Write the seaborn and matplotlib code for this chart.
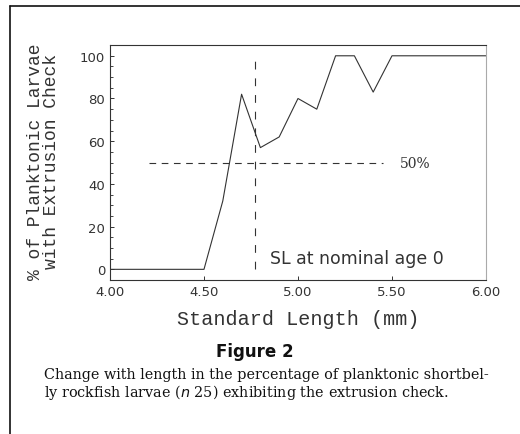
import matplotlib
matplotlib.use("Agg")
import matplotlib.pyplot as plt
import numpy as np
import pandas as pd
import seaborn as sns
from matplotlib.ticker import MultipleLocator

# values
standard_length = [4.0, 4.1, 4.2, 4.3, 4.4, 4.5, 4.6, 4.7, 4.8, 4.9, 5.0,
                   5.1, 5.2, 5.3, 5.4, 5.5, 5.6, 5.7, 5.8, 5.9, 6.0]
pct_with_check = [0, 0, 0, 0, 0, 0, 32, 82, 57, 62, 80,
                  75, 100, 100, 83, 100, 100, 100, 100, 100, 100]
x_ticks = [4.0, 4.5, 5.0, 5.5, 6.0]
y_ticks = [0, 20, 40, 60, 80, 100]
half_level = 50
half_span = [4.21, 5.45]
nominal_sl = 4.77

INK = "#333333"


def main() -> None:
    sns.set_style("ticks")
    plt.rcParams["font.family"] = ["DejaVu Sans"]

    df = pd.DataFrame({"SL": standard_length, "Pct": pct_with_check})

    fig = plt.figure(figsize=(5.20, 4.35), dpi=100)
    ax = fig.add_axes([0.2115, 0.354, 0.7231, 0.540])

    sns.lineplot(data=df, x="SL", y="Pct", ax=ax, color=INK, linewidth=0.8)

    ax.hlines(half_level, half_span[0], half_span[1], colors=INK,
              linestyles=(0, (6, 5)), linewidth=0.8)
    ax.text(5.54, half_level, "50%", va="center", ha="left",
            fontsize=10, color=INK, family="DejaVu Serif")
    ax.vlines(nominal_sl, 0, 100, colors=INK, linestyles=(0, (7, 8)), linewidth=0.8)
    ax.text(4.85, 5.5, "SL at nominal age 0", va="center", ha="left",
            fontsize=12.5, color=INK)

    ax.set_xlim(4.0, 6.0)
    ax.set_ylim(-5, 105)
    ax.set_xticks(x_ticks)
    ax.set_xticklabels([f"{v:.2f}" for v in x_ticks])
    ax.set_yticks(y_ticks)
    ax.yaxis.set_minor_locator(MultipleLocator(5))
    ax.tick_params(axis="both", labelsize=9.5, colors=INK, length=3, width=0.7, direction="in")
    ax.tick_params(axis="y", which="minor", length=2, width=0.6, direction="in")
    ax.set_xlabel("Standard Length (mm)", fontsize=14.5, family="Liberation Mono",
                  color=INK, labelpad=8)
    ax.set_ylabel("")
    for side, spine in ax.spines.items():
        spine.set_visible(True)
        spine.set_linewidth(0.8)
        spine.set_color(INK)
    ax.spines["right"].set_color("#aaaaaa")

    fig.text(0.069, 0.628, "% of Planktonic Larvae", rotation=90, ha="center",
             va="center", fontsize=13, family="Liberation Mono", color=INK)
    fig.text(0.100, 0.628, "with Extrusion Check", rotation=90, ha="center",
             va="center", fontsize=13, family="Liberation Mono", color=INK)

    fig.text(0.49, 0.19, "Figure 2", ha="center", va="center",
             fontsize=12, fontweight="bold", color="#111111")
    fig.text(0.085, 0.138, "Change with length in the percentage of planktonic shortbel-",
             ha="left", va="center", fontsize=10.35, family="DejaVu Serif", color="#111111")
    fig.text(0.085, 0.098, "ly rockfish larvae ($n$ 25) exhibiting the extrusion check.",
             ha="left", va="center", fontsize=10.35, family="DejaVu Serif", color="#111111")

    # page frame: top rule and left rule
    fig.add_artist(plt.Line2D([0.019, 1.0], [0.984, 0.984], color="#111111", linewidth=1.2))
    fig.add_artist(plt.Line2D([0.019, 0.019], [0.0, 0.984], color="#111111", linewidth=1.2))

    fig.savefig("out.png", dpi=100)


if __name__ == "__main__":
    main()
